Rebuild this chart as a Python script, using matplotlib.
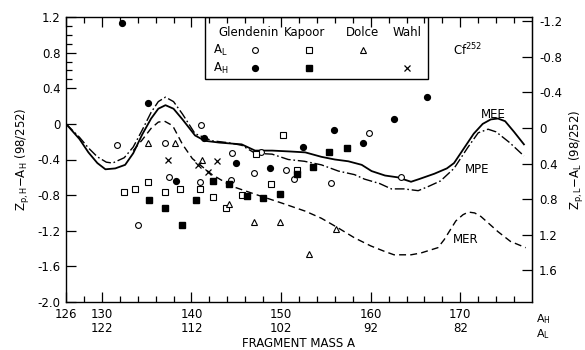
import matplotlib.pyplot as plt
from matplotlib.patches import Rectangle
from matplotlib.ticker import FixedLocator

plt.rcParams['font.family'] = ['DejaVu Sans']
plt.rcParams['font.size'] = 8.5
plt.rcParams['mathtext.default'] = 'regular'

# theoretical curves (x = heavy fragment mass A_H)
mee_x = [126.0, 127.5, 128.5, 129.5, 130.4, 131.5, 132.6, 133.5, 134.5, 135.5, 136.3, 137.1,
         138.0, 139.0, 140.4, 141.5, 143.1, 145.6, 147.1, 149.0, 151.0, 152.7, 154.5, 156.0,
         157.5, 159.0, 160.1, 161.6, 163.0, 164.5, 165.4, 167.1, 168.5, 169.3, 170.5, 171.5,
         172.5, 173.4, 174.2, 175.0, 176.0, 177.1]
mee_y = [0.0, -0.17, -0.32, -0.44, -0.51, -0.50, -0.46, -0.33, -0.12, 0.06, 0.17, 0.21,
         0.17, 0.05, -0.13, -0.19, -0.21, -0.23, -0.30, -0.30, -0.31, -0.32, -0.37, -0.40,
         -0.42, -0.46, -0.53, -0.58, -0.60, -0.65, -0.62, -0.56, -0.50, -0.44, -0.26, -0.11,
         0.0, 0.05, 0.06, 0.03, -0.09, -0.23]

mpe_x = [126.0, 127.5, 128.5, 129.5, 130.5, 131.2, 132.5, 133.5, 134.5, 135.5, 136.3, 137.1,
         138.0, 139.0, 140.4, 142.3, 144.0, 145.6, 147.1, 149.0, 150.8, 152.6, 154.5, 156.4,
         158.2, 159.3, 161.0, 162.3, 163.7, 165.3, 166.5, 167.8, 169.3, 170.8, 172.0, 173.1,
         174.0, 175.5, 177.1]
mpe_y = [0.0, -0.15, -0.27, -0.37, -0.43, -0.44, -0.38, -0.26, -0.07, 0.13, 0.25, 0.30,
         0.25, 0.11, -0.11, -0.19, -0.21, -0.24, -0.33, -0.34, -0.40, -0.42, -0.46, -0.53,
         -0.57, -0.62, -0.67, -0.73, -0.73, -0.75, -0.70, -0.64, -0.50, -0.27, -0.10, -0.06,
         -0.09, -0.21, -0.36]

mer_x = [133.5, 134.5, 135.5, 136.3, 137.0, 137.9, 139.0, 140.1, 142.3, 144.5, 147.1, 150.1,
         152.7, 154.5, 156.4, 158.2, 160.0, 161.5, 162.6, 164.5, 165.6, 167.5, 168.2, 169.5,
         170.3, 170.9, 171.6, 172.3, 173.2, 174.2, 175.6, 177.3]
mer_y = [-0.30, -0.18, -0.05, 0.02, 0.03, -0.02, -0.23, -0.39, -0.57, -0.70, -0.79, -0.89,
         -0.98, -1.06, -1.17, -1.28, -1.37, -1.43, -1.47, -1.47, -1.45, -1.39, -1.30, -1.09,
         -1.02, -0.99, -1.00, -1.04, -1.12, -1.21, -1.32, -1.39]

# measured points
glen_l_x = [131.7, 137.0, 137.5, 134.0, 141.1, 144.5, 141.0, 144.4, 147.8, 147.0, 150.6,
            151.4, 155.6, 159.8, 163.4]
glen_l_y = [-0.24, -0.21, -0.60, -1.14, -0.01, -0.33, -0.65, -0.63, -0.32, -0.55, -0.52,
            -0.62, -0.66, -0.10, -0.60]
glen_h_x = [132.2, 135.2, 138.3, 141.4, 145.0, 148.8, 152.5, 155.9, 159.1, 162.6, 166.3]
glen_h_y = [1.13, 0.23, -0.64, -0.16, -0.44, -0.50, -0.26, -0.07, -0.21, 0.06, 0.30]
kap_l_x = [132.5, 133.7, 135.2, 137.1, 138.7, 141.0, 142.4, 145.6, 143.9, 147.2, 148.9,
           150.2, 151.8]
kap_l_y = [-0.76, -0.73, -0.65, -0.76, -0.73, -0.73, -0.82, -0.80, -0.95, -0.34, -0.68,
           -0.12, -0.52]
kap_h_x = [135.3, 137.1, 138.9, 140.5, 142.4, 144.2, 146.2, 148.0, 149.9, 151.8, 153.6,
           155.3, 157.4]
kap_h_y = [-0.86, -0.94, -1.14, -0.86, -0.64, -0.67, -0.81, -0.83, -0.79, -0.56, -0.48,
           -0.32, -0.27]
dolce_l_x = [135.1, 138.2, 141.2, 144.2, 147.0, 149.9, 153.1, 156.1]
dolce_l_y = [-0.21, -0.21, -0.41, -0.90, -1.10, -1.10, -1.46, -1.18]
wahl_h_x = [137.4, 140.7, 142.9, 141.8]
wahl_h_y = [-0.40, -0.46, -0.42, -0.54]

x_major = [126, 130, 140, 150, 160, 170]
x_labels = ['126', '130\n122', '140\n112', '150\n102', '160\n92', '170\n82']
y_major = [1.2, 0.8, 0.4, 0.0, -0.4, -0.8, -1.2, -1.6, -2.0]
y_labels = ['1.2', '0.8', '0.4', '0', '-0.4', '-0.8', '-1.2', '-1.6', '-2.0']
r_major = [-1.2, -0.8, -0.4, 0.0, 0.4, 0.8, 1.2, 1.6]
r_labels = ['-1.2', '-0.8', '-0.4', '0', '0.4', '0.8', '1.2', '1.6']
authors = ['Glendenin', 'Kapoor', 'Dolce', 'Wahl']

fig = plt.figure(figsize=(5.85, 3.5), dpi=100)
ax = fig.add_axes([66 / 585, 1 - 302 / 350, 466 / 585, 285 / 350])

ax.plot(mee_x, mee_y, color='k', lw=1.3)
ax.plot(mpe_x, mpe_y, color='k', lw=1.0, dashes=[7, 2, 1.2, 2])
ax.plot(mer_x, mer_y, color='k', lw=1.0, dashes=[5, 3])

ms = 4.2
ax.plot(glen_l_x, glen_l_y, ls='none', marker='o', ms=ms, mfc='white', mec='k', mew=0.8)
ax.plot(glen_h_x, glen_h_y, ls='none', marker='o', ms=ms, mfc='k', mec='k')
ax.plot(kap_l_x, kap_l_y, ls='none', marker='s', ms=ms, mfc='white', mec='k', mew=0.8)
ax.plot(kap_h_x, kap_h_y, ls='none', marker='s', ms=ms, mfc='k', mec='k')
ax.plot(dolce_l_x, dolce_l_y, ls='none', marker='^', ms=ms, mfc='white', mec='k', mew=0.8)
ax.plot(wahl_h_x, wahl_h_y, ls='none', marker='x', ms=ms, mec='k', mew=0.9)

ax.set_xlim(126, 178)
ax.set_ylim(-2.0, 1.2)
ax.set_xticks(x_major)
ax.set_xticklabels(x_labels, linespacing=1.1)
ax.xaxis.set_minor_locator(FixedLocator(list(range(128, 178, 2))))
ax.set_yticks(y_major)
ax.set_yticklabels(y_labels)
ax.yaxis.set_minor_locator(FixedLocator([1.1, 1.0, 0.9, 0.7, 0.6, 0.5]))
ax.tick_params(which='both', direction='in', top=True, right=False, width=0.9)
ax.tick_params(which='major', length=7, pad=4)
ax.tick_params(which='minor', length=4)
for s in ax.spines.values():
    s.set_linewidth(1.0)

sec = ax.secondary_yaxis('right', functions=(lambda y: -y - 0.045, lambda r: -r - 0.045))
sec.set_yticks(r_major)
sec.set_yticklabels(r_labels)
sec.tick_params(direction='in', length=7, width=0.9, pad=5)
sec.set_ylabel('Z$_{p,L}$$-$A$_L$ (98/252)', labelpad=4)

ax.set_ylabel('Z$_{p,H}$$-$A$_H$ (98/252)', labelpad=4)
ax.set_xlabel('FRAGMENT MASS A', labelpad=2)

fig.text(543 / 585, 1 - 319 / 350, 'A$_H$', ha='center', va='center', fontsize=8)
fig.text(543 / 585, 1 - 334 / 350, 'A$_L$', ha='center', va='center', fontsize=8)

# legend box
ax.add_patch(Rectangle((0.298, 0.782), 0.479, 0.218, transform=ax.transAxes,
                       fill=False, ec='k', lw=1.0, zorder=3))
col_x = [0.391, 0.513, 0.636, 0.732]
for name, cx in zip(authors, col_x):
    ax.text(cx, 0.944, name, transform=ax.transAxes, ha='center', va='center')
ax.text(0.316, 0.884, 'A$_L$', transform=ax.transAxes, ha='left', va='center')
ax.text(0.316, 0.821, 'A$_H$', transform=ax.transAxes, ha='left', va='center')
leg_kw = dict(transform=ax.transAxes, ls='none', ms=ms, mec='k')
ax.plot(0.406, 0.884, marker='o', mfc='white', mew=0.8, **leg_kw)
ax.plot(0.522, 0.884, marker='s', mfc='white', mew=0.8, **leg_kw)
ax.plot(0.637, 0.884, marker='^', mfc='white', mew=0.8, **leg_kw)
ax.plot(0.406, 0.821, marker='o', mfc='k', **leg_kw)
ax.plot(0.522, 0.821, marker='s', mfc='k', **leg_kw)
ax.plot(0.732, 0.821, marker='x', mew=0.9, **leg_kw)

ax.text(0.831, 0.884, 'Cf$^{252}$', transform=ax.transAxes, ha='left', va='center')
ax.text(173.7, 0.107, 'MEE', ha='center', va='center')
ax.text(171.9, -0.51, 'MPE', ha='center', va='center')
ax.text(170.6, -1.30, 'MER', ha='center', va='center')

fig.savefig('out.png', dpi=100)
